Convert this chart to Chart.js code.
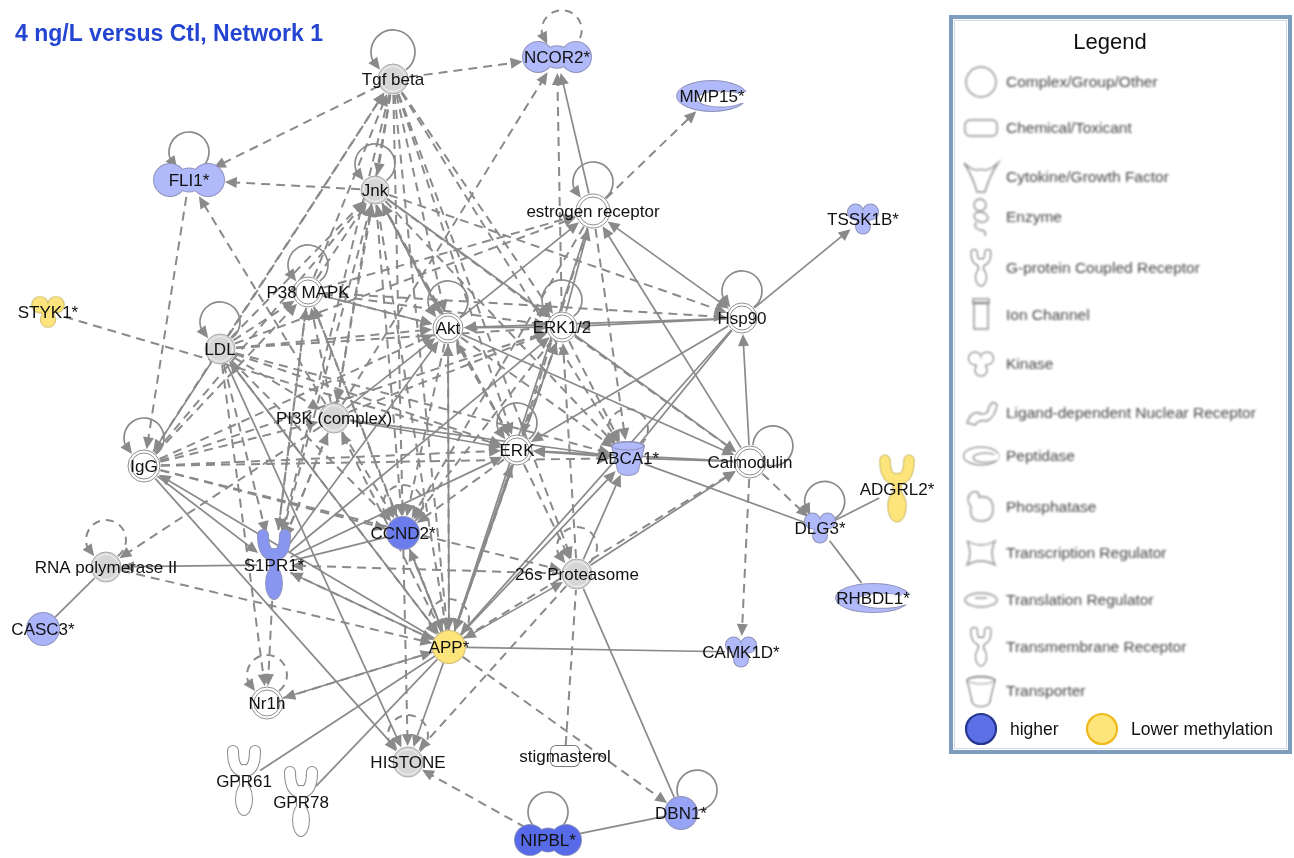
<!DOCTYPE html>
<html>
<head>
<meta charset="utf-8">
<script src="https://cdn.jsdelivr.net/npm/chart.js@4.4.1/dist/chart.umd.min.js"></script>
<style>
  html, body { margin: 0; padding: 0; background: #ffffff; }
  canvas { display: block; }
</style>
</head>
<body>
<canvas id="net" width="1294" height="858"></canvas>
<script>
// ---- Network data -------------------------------------------------------
const nodeIds = ['TGF','NCOR2','MMP15','FLI1','JNK','ER','TSSK1B','STYK1','P38','AKT','ERK12','HSP90',
  'LDL','PI3K','IGG','ERK','ABCA1','CALM','ADGRL2','DLG3','CCND2','S1PR1','RNAP','P26S','CASC3','APP',
  'CAMK1D','RHBDL1','NR1H','GPR61','GPR78','HIST','STIG','NIPBL','DBN1'];
const nodeLabels = ['Tgf beta','NCOR2*','MMP15*','FLI1*','Jnk','estrogen receptor','TSSK1B*','STYK1*','P38 MAPK','Akt','ERK1/2','Hsp90',
  'LDL','PI3K (complex)','IgG','ERK','ABCA1*','Calmodulin','ADGRL2*','DLG3*','CCND2*','S1PR1*','RNA polymerase II','26s Proteasome','CASC3*','APP*',
  'CAMK1D*','RHBDL1*','Nr1h','GPR61','GPR78','HISTONE','stigmasterol','NIPBL*','DBN1*'];
// layout coordinates of each molecule
const nodeX = [393,557,712,189,375,593,863,48,308,448,562,742,220,334,144,517,628,750,897,820,403,274,106,577,43,449,741,873,267,244,301,408,565,548,681];
const nodeY = [79,57,96,180,190,211,219,312,292,328,327,318,349,418,466,450,458,462,489,528,533,565,567,574,629,647,652,598,703,781,802,762,756,840,813];
// molecule type
const nodeType = ['group','tr','peptidase','tr','group','complex','kinase','kinase','complex','complex','complex','complex',
  'group','group','complex','complex','transporter','complex','tmr','kinase','other','tmr','group','group','other','other',
  'kinase','peptidase','complex','gpcr','gpcr','group','chemical','tr','other'];
// methylation change (positive = higher, negative = lower, 0 = not measured)
const nodeChange = [0,1.1,1.1,1.1,0,0,1.1,-1,0,0,0,0,0,0,0,0,1.1,0,-1,1.1,2.5,1.9,0,0,1.2,-1,1.1,1.1,0,0,0,0,0,2.9,1.6];

// direct interactions: [source, target, arrow (0 none, 1 to target, 2 both)]
const directLinks = [
  ['JNK','AKT',1],['JNK','CALM',1],['ER','NCOR2',1],['HSP90','ER',2],['CALM','ER',1],['ERK12','ER',1],['AKT','ER',1],
  ['HSP90','TSSK1B',1],['CALM','HSP90',1],['HSP90','AKT',1],['HSP90','ERK12',1],['HSP90','ERK',1],['HSP90','ABCA1',0],
  ['HSP90','APP',1],['ABCA1','CALM',0],['CALM','ERK',1],['P26S','CALM',1],['AKT','CALM',1],['ABCA1','DLG3',0],
  ['ADGRL2','DLG3',0],['DLG3','RHBDL1',0],['ABCA1','ERK',1],['P26S','ABCA1',1],['APP','ABCA1',1],['PI3K','ABCA1',1],
  ['PI3K','ERK',1],['S1PR1','ERK',1],['APP','ERK',1],['ERK12','AKT',1],['PI3K','AKT',1],['S1PR1','AKT',1],['APP','AKT',1],
  ['P38','AKT',1],['S1PR1','ERK12',1],['APP','ERK12',1],['LDL','IGG',1],['LDL','HIST',1],['APP','LDL',1],['S1PR1','RNAP',1],
  ['RNAP','CASC3',0],['IGG','HIST',1],['IGG','S1PR1',1],['APP','IGG',1],['CCND2','S1PR1',0],['APP','S1PR1',1],
  ['APP','CAMK1D',0],['APP','HIST',1],['APP','P26S',2],['APP','NR1H',1],['GPR61','APP',0],['GPR78','APP',0],
  ['APP','CCND2',1],['P26S','DBN1',0],['NIPBL','DBN1',0],['ER','APP',1]
];
// indirect interactions: [source, target, arrow]
const indirectLinks = [
  ['TGF','NCOR2',1],['TGF','FLI1',1],['TGF','JNK',1],['LDL','TGF',1],['P38','TGF',1],['TGF','AKT',1],['TGF','ERK12',1],
  ['TGF','ERK',1],['TGF','ABCA1',1],['TGF','P26S',1],['TGF','CCND2',1],['TGF','PI3K',1],['TGF','S1PR1',1],['TGF','APP',1],
  ['IGG','TGF',1],['JNK','FLI1',1],['JNK','ERK12',1],['JNK','HSP90',1],['JNK','ERK',1],['JNK','ABCA1',1],['P38','JNK',1],
  ['LDL','JNK',1],['PI3K','JNK',1],['IGG','JNK',1],['S1PR1','JNK',1],['JNK','CCND2',1],['APP','JNK',1],['AKT','JNK',1],
  ['ERK','JNK',1],['PI3K','NCOR2',1],['ERK12','NCOR2',1],['ER','MMP15',1],['P38','ER',1],['ER','ERK',1],['ER','ABCA1',1],
  ['LDL','ER',1],['ER','CCND2',1],['P38','HSP90',1],['CALM','DLG3',1],['CALM','CAMK1D',1],['APP','CALM',1],
  ['ERK12','CALM',1],['ERK12','ABCA1',1],['AKT','ABCA1',1],['LDL','ABCA1',1],['IGG','ABCA1',1],['ERK','AKT',1],
  ['ERK','ERK12',1],['IGG','ERK',1],['LDL','ERK',1],['ERK','CCND2',1],['ERK','P26S',1],['STYK1','ERK',1],['P38','AKT',1],
  ['LDL','AKT',1],['IGG','AKT',1],['AKT','CCND2',1],['AKT','APP',1],['P38','ERK12',1],['LDL','ERK12',1],['PI3K','ERK12',1],
  ['ERK12','CCND2',1],['IGG','ERK12',1],['P26S','ERK12',1],['ERK12','APP',1],['LDL','P38',1],['IGG','P38',1],['PI3K','P38',1],
  ['S1PR1','P38',1],['P38','CCND2',1],['APP','P38',1],['P38','S1PR1',1],['LDL','PI3K',1],['IGG','PI3K',1],['PI3K','FLI1',1],
  ['APP','PI3K',1],['S1PR1','PI3K',1],['PI3K','CCND2',1],['LDL','S1PR1',1],['LDL','NR1H',1],['LDL','CCND2',1],['LDL','APP',1],
  ['FLI1','IGG',1],['PI3K','RNAP',1],['IGG','P26S',1],['IGG','CCND2',1],['P26S','S1PR1',1],['S1PR1','NR1H',1],
  ['PI3K','S1PR1',1],['S1PR1','APP',1],['APP','DBN1',1],['NR1H','APP',1],['RNAP','APP',1],['CCND2','APP',1],
  ['STIG','P26S',0],['P26S','HIST',1],['NIPBL','HIST',1],['CCND2','HIST',1],['ERK','APP',1]
];
// self-regulation: [node, direct?, arrow]
const selfLinks = [
  ['TGF',1,1],['NCOR2',0,1],['FLI1',1,1],['JNK',1,1],['ER',1,1],['P38',1,1],['AKT',1,1],['ERK12',1,1],['HSP90',1,1],
  ['LDL',1,1],['IGG',1,1],['ERK',1,1],['ABCA1',0,1],['CALM',1,0],['DLG3',1,1],['CCND2',0,1],['RNAP',0,1],['P26S',0,1],
  ['APP',0,1],['NR1H',0,1],['HIST',0,1],['NIPBL',1,0],['DBN1',1,0]
];

const legendItems = ['Complex/Group/Other','Chemical/Toxicant','Cytokine/Growth Factor','Enzyme','G-protein Coupled Receptor',
  'Ion Channel','Kinase','Ligand-dependent Nuclear Receptor','Peptidase','Phosphatase','Transcription Regulator',
  'Translation Regulator','Transmembrane Receptor','Transporter'];
const legendIcons = ['complex','chemical','cytokine','enzyme','gpcr','ion','kinase','ldnr','peptidase','phosphatase','tr','tlr','tmr','transporter'];
const legendColors = [['higher', 3], ['Lower methylation', -1]];
const titleText = '4 ng/L versus Ctl, Network 1';

// ---- Styling -----------------------------------------------------------
const EDGE = '#8a8a8a';
const FONT = '"Liberation Sans", Arial, sans-serif';
const circleSize = { JNK: 14, ER: 17, CALM: 16, IGG: 16, NR1H: 16 };
const boxSize = { NCOR2: [70, 30], NIPBL: [66, 32], STYK1: [32, 31], ADGRL2: [35, 67], GPR78: [32, 70], RHBDL1: [74, 30] };
const loopAngle = { CALM: -35, DBN1: -55, DLG3: -80, NCOR2: -80 };
const loopRadius = { TGF: 22 };

function changeColor(v) {
  if (v < 0) return '#fde47b';
  const lo = [181, 189, 251], hi = [82, 102, 231];
  const t = Math.max(0, Math.min(1, (v - 1) / 2));
  const c = lo.map((a, k) => Math.round(a + (hi[k] - a) * t));
  return `rgb(${c[0]},${c[1]},${c[2]})`;
}

// primitive shapes for each molecule type, in a base frame centred on 0,0
function basePrims(type) {
  switch (type) {
    case 'tr': return { w: 70, h: 32, p: [{t:'c',x:-19,y:0,r:16},{t:'c',x:19,y:0,r:16},{t:'e',x:0,y:0,rx:13,ry:11.5}] };
    case 'kinase': return { w: 30, h: 30, p: [{t:'c',x:-7.5,y:-7,r:7.5},{t:'c',x:7.5,y:-7,r:7.5},{t:'c',x:0,y:7.5,r:7},{t:'c',x:0,y:-1,r:6}] };
    case 'transporter': return { w: 34, h: 34, p: [{t:'p',pts:[[-16,-12],[16,-12],[10,12],[-10,12]]},{t:'e',x:0,y:-12,rx:16,ry:4},{t:'e',x:0,y:12,rx:10,ry:5}], rim: {x:0,y:-12,rx:16,ry:4} };
    case 'tmr': case 'gpcr':
      return { w: 32, h: 70, p: [{t:'q',x1:-11,y1:-30,cx:-11,cy:-11,x2:-1,y2:-10,w:10},{t:'q',x1:11,y1:-30,cx:11,cy:-11,x2:1,y2:-10,w:10},
        {t:'k',x1:0,y1:-12,x2:0,y2:2,w:8},{t:'e',x:0,y:18,rx:8,ry:16}] };
    case 'peptidase': return { w: 70, h: 32, p: [{t:'e',x:0,y:0,rx:35,ry:15}], hole: {x:9,y:3,rx:24,ry:7.5}, cut: [27,-4,10,11] };
    case 'chemical': return { w: 28, h: 20, p: [{t:'r',x:0,y:0,w:28,h:20,rr:5}] };
    default: return { w: 32, h: 32, p: [{t:'c',x:0,y:0,r:16}] };
  }
}

function scalePrims(list, sx, sy) {
  return list.map(p => {
    const q = Object.assign({}, p);
    for (const k of ['x','x1','x2','cx']) if (k in q) q[k] *= sx;
    for (const k of ['y','y1','y2','cy']) if (k in q) q[k] *= sy;
    if ('r' in q) q.r *= Math.min(sx, sy);
    if ('rx' in q) q.rx *= sx;
    if ('ry' in q) q.ry *= sy;
    if ('w' in q && q.t === 'r') { q.w *= sx; q.h *= sy; }
    else if ('w' in q) q.w *= Math.min(sx, sy);
    if ('pts' in q) q.pts = q.pts.map(([a, b]) => [a * sx, b * sy]);
    return q;
  });
}

function paintPrims(g, list, color, grow) {
  g.fillStyle = color; g.strokeStyle = color; g.lineCap = 'round'; g.lineJoin = 'round';
  for (const p of list) {
    g.beginPath();
    if (p.t === 'c') { g.arc(p.x, p.y, p.r + grow, 0, Math.PI * 2); g.fill(); }
    else if (p.t === 'e') { g.ellipse(p.x, p.y, p.rx + grow, p.ry + grow, 0, 0, Math.PI * 2); g.fill(); }
    else if (p.t === 'k') { g.lineWidth = p.w + 2 * grow; g.moveTo(p.x1, p.y1); g.lineTo(p.x2, p.y2); g.stroke(); }
    else if (p.t === 'q') { g.lineWidth = p.w + 2 * grow; g.moveTo(p.x1, p.y1); g.quadraticCurveTo(p.cx, p.cy, p.x2, p.y2); g.stroke(); }
    else if (p.t === 'p') {
      g.moveTo(p.pts[0][0], p.pts[0][1]);
      for (let i = 1; i < p.pts.length; i++) g.lineTo(p.pts[i][0], p.pts[i][1]);
      g.closePath(); g.fill();
      if (grow > 0) { g.lineWidth = grow * 2; g.stroke(); }
    }
    else if (p.t === 'r') { g.roundRect(p.x - p.w / 2 - grow, p.y - p.h / 2 - grow, p.w + 2 * grow, p.h + 2 * grow, p.rr + grow); g.fill(); }
  }
}

// draws a glyph (outline + fill) centred at 0,0 of context g
function paintGlyph(g, type, w, h, fill, line) {
  const b = basePrims(type);
  const sx = w / b.w, sy = h / b.h;
  const list = scalePrims(b.p, sx, sy);
  paintPrims(g, list, line, 1);
  paintPrims(g, list, fill, 0);
  if (b.hole) {
    const hx = b.hole.x * sx, hy = b.hole.y * sy, rx = b.hole.rx * sx, ry = b.hole.ry * sy;
    g.beginPath(); g.ellipse(hx, hy, rx + 1, ry + 1, 0, 0, Math.PI * 2); g.fillStyle = line; g.fill();
    g.beginPath(); g.ellipse(hx, hy, rx, ry, 0, 0, Math.PI * 2); g.fillStyle = '#ffffff'; g.fill();
    const c = b.cut; g.fillStyle = '#ffffff'; g.fillRect(c[0] * sx, c[1] * sy, c[2] * sx, c[3] * sy);
  }
  if (b.rim) {
    g.beginPath(); g.ellipse(b.rim.x * sx, b.rim.y * sy, b.rim.rx * sx, b.rim.ry * sy, 0, 0, Math.PI * 2);
    g.lineWidth = 1; g.strokeStyle = line; g.stroke();
  }
}

function nodeDims(i) {
  const id = nodeIds[i], t = nodeType[i];
  if (['group','complex','other'].includes(t)) { const r = circleSize[id] || (t === 'other' ? 16 : 15); return [2 * r, 2 * r]; }
  if (boxSize[id]) return boxSize[id];
  const b = basePrims(t); return [b.w, b.h];
}

function makeGlyph(i) {
  const [w, h] = nodeDims(i);
  const cv = document.createElement('canvas');
  cv.width = Math.ceil(w + 8); cv.height = Math.ceil(h + 8);
  const g = cv.getContext('2d');
  g.translate(cv.width / 2, cv.height / 2);
  const t = nodeType[i], v = nodeChange[i];
  const r = w / 2;
  if (t === 'group') {
    g.beginPath(); g.arc(0, 0, r, 0, Math.PI * 2); g.fillStyle = '#d6d6d6'; g.fill();
    g.lineWidth = 1; g.strokeStyle = '#a9a9a9'; g.stroke();
    g.beginPath(); g.arc(0, 0, r - 2.5, 0, Math.PI * 2); g.strokeStyle = '#f2f2f2'; g.stroke();
  } else if (t === 'complex') {
    g.beginPath(); g.arc(0, 0, r, 0, Math.PI * 2); g.fillStyle = '#ffffff'; g.fill();
    g.lineWidth = 1; g.strokeStyle = '#8f8f8f'; g.stroke();
    g.beginPath(); g.arc(0, 0, r - 3, 0, Math.PI * 2); g.stroke();
  } else if (t === 'chemical') {
    paintGlyph(g, t, w, h, '#ffffff', '#7a7a7a');
  } else if (t === 'gpcr') {
    paintGlyph(g, t, w, h, '#ffffff', '#8a8a8a');
  } else {
    const fill = changeColor(v);
    const line = v < 0 ? '#cfbd72' : '#8f93bb';
    paintGlyph(g, t, w, h, fill, line);
  }
  return cv;
}

const glyphs = nodeIds.map((_, i) => makeGlyph(i));
const halfSize = nodeIds.map((_, i) => { const d = nodeDims(i); return [d[0] / 2, d[1] / 2]; });
const indexOf = {}; nodeIds.forEach((id, i) => indexOf[id] = i);

function reach(i, ux, uy) {
  const [a, b] = halfSize[i];
  return 1 / Math.sqrt((ux / a) ** 2 + (uy / b) ** 2);
}

function arrowHead(g, x, y, ux, uy) {
  const L = 12, W = 5.5;
  g.beginPath();
  g.moveTo(x, y);
  g.lineTo(x - ux * L - uy * W, y - uy * L + ux * W);
  g.lineTo(x - ux * L + uy * W, y - uy * L - ux * W);
  g.closePath(); g.fill();
}

function drawLink(g, pts, s, t, dashed, arrow) {
  const a = pts[indexOf[s]], b = pts[indexOf[t]];
  const dx = b.x - a.x, dy = b.y - a.y, L = Math.hypot(dx, dy);
  const ux = dx / L, uy = dy / L;
  const ra = reach(indexOf[s], ux, uy) + 1, rb = reach(indexOf[t], -ux, -uy) + 1;
  const sx = a.x + ux * ra, sy = a.y + uy * ra, ex = b.x - ux * rb, ey = b.y - uy * rb;
  let lsx = sx, lsy = sy, lex = ex, ley = ey;
  if (arrow >= 1) { lex = ex - ux * 10; ley = ey - uy * 10; }
  if (arrow === 2) { lsx = sx + ux * 10; lsy = sy + uy * 10; }
  g.lineWidth = dashed ? 2 : 1.7;
  g.setLineDash(dashed ? [9, 6] : []);
  g.beginPath(); g.moveTo(lsx, lsy); g.lineTo(lex, ley); g.stroke();
  g.setLineDash([]);
  if (arrow >= 1) arrowHead(g, ex, ey, ux, uy);
  if (arrow === 2) arrowHead(g, sx, sy, -ux, -uy);
}

// self-regulation loop: an arc leaving and re-entering the node boundary
function drawLoop(g, p, id, direct, arrow) {
  const i = indexOf[id];
  const phi = (loopAngle[id] !== undefined ? loopAngle[id] : -90) * Math.PI / 180;
  const cphi = Math.cos(phi), sphi = Math.sin(phi);
  const R = loopRadius[id] || 20;
  const r = reach(i, cphi, sphi) + 1;
  const d = r + 11;
  const a = (d * d + r * r - R * R) / (2 * d);
  const h = Math.sqrt(Math.max(0, r * r - a * a));
  const cx = p.x + cphi * d, cy = p.y + sphi * d;
  const beta = Math.atan2(h, a - d);
  const a0 = phi + beta, a1 = phi - beta;
  g.lineWidth = direct ? 1.7 : 2;
  g.setLineDash(direct ? [] : [8, 6]);
  g.beginPath(); g.arc(cx, cy, R, a0, arrow ? a1 + 10 / R : a1, true); g.stroke();
  g.setLineDash([]);
  if (arrow) {
    const ex = cx + R * Math.cos(a1), ey = cy + R * Math.sin(a1);
    const tb = a1 + 0.3;
    arrowHead(g, ex, ey, Math.sin(tb), -Math.cos(tb));
  }
}

// legend icon drawing (outline only)
function legendIcon(g, kind, x, y) {
  g.save(); g.translate(x, y);
  const line = '#8e8e8e';
  g.lineWidth = 1.4; g.strokeStyle = line;
  switch (kind) {
    case 'complex': g.beginPath(); g.arc(0, 0, 15, 0, Math.PI * 2); g.stroke(); break;
    case 'chemical': g.beginPath(); g.roundRect(-16, -8, 32, 16, 5); g.stroke(); break;
    case 'cytokine':
      g.beginPath(); g.moveTo(-17, -14); g.quadraticCurveTo(-6, -4, 0, -8); g.quadraticCurveTo(6, -4, 17, -14);
      g.quadraticCurveTo(8, 0, 4, 15); g.lineTo(-4, 15); g.quadraticCurveTo(-8, 0, -17, -14); g.stroke(); break;
    case 'enzyme':
      g.beginPath(); g.arc(-1, -12, 6, 0, Math.PI * 2); g.stroke();
      g.beginPath(); g.ellipse(0, 0, 7, 5, 0.3, 0, Math.PI * 2); g.stroke();
      g.beginPath(); g.moveTo(-5, 5); g.quadraticCurveTo(-8, 12, 0, 13); g.quadraticCurveTo(6, 14, 4, 19); g.stroke(); break;
    case 'ion': g.beginPath(); g.rect(-7, -12, 14, 26); g.stroke(); g.beginPath(); g.rect(-8, -16, 16, 4); g.stroke(); break;
    case 'ldnr':
      g.beginPath(); g.moveTo(-14, 10); g.quadraticCurveTo(-10, -2, -2, 0); g.quadraticCurveTo(6, 4, 8, -6);
      g.quadraticCurveTo(12, -14, 16, -8); g.quadraticCurveTo(14, 4, 6, 8); g.quadraticCurveTo(-2, 6, -6, 12); g.closePath(); g.stroke(); break;
    case 'phosphatase':
      g.beginPath(); g.moveTo(-10, -14); g.quadraticCurveTo(-2, -18, -2, -10); g.quadraticCurveTo(12, -12, 12, 2);
      g.quadraticCurveTo(12, 14, 0, 14); g.quadraticCurveTo(-12, 14, -10, 0); g.quadraticCurveTo(-16, -8, -10, -14); g.stroke(); break;
    case 'tlr':
      g.beginPath(); g.ellipse(0, 0, 16, 7, 0, 0, Math.PI * 2); g.stroke();
      g.beginPath(); g.moveTo(-6, -2); g.lineTo(6, -2); g.stroke(); break;
    case 'tr':
      g.beginPath(); g.moveTo(-14, -12); g.quadraticCurveTo(0, -4, 14, -12); g.quadraticCurveTo(8, 0, 14, 12);
      g.quadraticCurveTo(0, 4, -14, 12); g.quadraticCurveTo(-8, 0, -14, -12); g.stroke(); break;
    default: {
      const dims = { gpcr: [20, 36], kinase: [24, 24], peptidase: [34, 18], tmr: [20, 38], transporter: [28, 30] }[kind];
      paintGlyph(g, kind, dims[0], dims[1], '#ffffff', line);
    }
  }
  g.restore();
}

// ---- Chart ---------------------------------------------------------------
const networkPlugin = {
  id: 'network',
  beforeDraw(chart) {
    const g = chart.ctx; g.save(); g.fillStyle = '#ffffff'; g.fillRect(0, 0, chart.width, chart.height); g.restore();
  },
  beforeDatasetsDraw(chart) {
    const g = chart.ctx, pts = chart.getDatasetMeta(0).data;
    g.save();
    g.strokeStyle = EDGE; g.fillStyle = EDGE;
    for (const [s, t, a] of indirectLinks) drawLink(g, pts, s, t, true, a);
    for (const [s, t, a] of directLinks) drawLink(g, pts, s, t, false, a);
    for (const [id, direct, a] of selfLinks) drawLoop(g, pts[indexOf[id]], id, direct, a);
    g.restore();
  },
  afterDatasetsDraw(chart) {
    const g = chart.ctx, pts = chart.getDatasetMeta(0).data;
    g.save();
    g.font = '17px ' + FONT; g.fillStyle = '#111111'; g.textAlign = 'center'; g.textBaseline = 'middle';
    pts.forEach((p, i) => g.fillText(nodeLabels[i], p.x, p.y + 1));
    g.restore();
  },
  afterDraw(chart) {
    const g = chart.ctx;
    g.save();
    // title
    g.font = 'bold 23px ' + FONT; g.fillStyle = '#2444d2'; g.textAlign = 'left'; g.textBaseline = 'middle';
    g.fillText(titleText, 15, 35);
    // legend panel
    g.strokeStyle = '#7d9dbd'; g.lineWidth = 4; g.strokeRect(951, 17, 339, 735);
    g.strokeStyle = '#cfdbe7'; g.lineWidth = 1; g.strokeRect(954.5, 20.5, 332, 728);
    g.fillStyle = '#111111'; g.textAlign = 'center'; g.font = '22px ' + FONT;
    g.fillText('Legend', 1110, 43);
    g.filter = 'blur(0.9px)';
    const rowsY = [82, 128, 177, 217, 268, 315, 364, 413, 456, 507, 553, 600, 647, 691];
    legendIcons.forEach((k, i) => legendIcon(g, k, 981, rowsY[i]));
    g.textAlign = 'left'; g.font = '15.5px ' + FONT; g.fillStyle = '#474747';
    legendItems.forEach((t, i) => g.fillText(t, 1006, rowsY[i] + 1));
    g.filter = 'none';
    // colour key
    const keyX = [981, 1102], textX = [1010, 1131];
    legendColors.forEach(([label, v], i) => {
      g.beginPath(); g.arc(keyX[i], 729, 15, 0, Math.PI * 2);
      g.fillStyle = v < 0 ? '#fde47b' : '#5d70e8'; g.fill();
      g.lineWidth = 2.2; g.strokeStyle = v < 0 ? '#efb91c' : '#26378f'; g.stroke();
      g.fillStyle = '#111111'; g.font = '17.5px ' + FONT; g.fillText(label, textX[i], 730);
    });
    g.restore();
  }
};

new Chart(document.getElementById('net'), {
  type: 'scatter',
  data: {
    datasets: [{
      data: nodeIds.map((_, i) => ({ x: nodeX[i], y: nodeY[i] })),
      pointStyle: (ctx) => glyphs[ctx.dataIndex],
      pointRadius: 6,
      clip: false
    }]
  },
  options: {
    responsive: false,
    animation: false,
    events: [],
    layout: { padding: 0, autoPadding: false },
    scales: {
      x: { type: 'linear', min: 0, max: 1294, display: false },
      y: { type: 'linear', min: 0, max: 858, reverse: true, display: false }
    },
    plugins: { legend: { display: false }, tooltip: { enabled: false } }
  },
  plugins: [networkPlugin]
});
</script>
</body>
</html>
